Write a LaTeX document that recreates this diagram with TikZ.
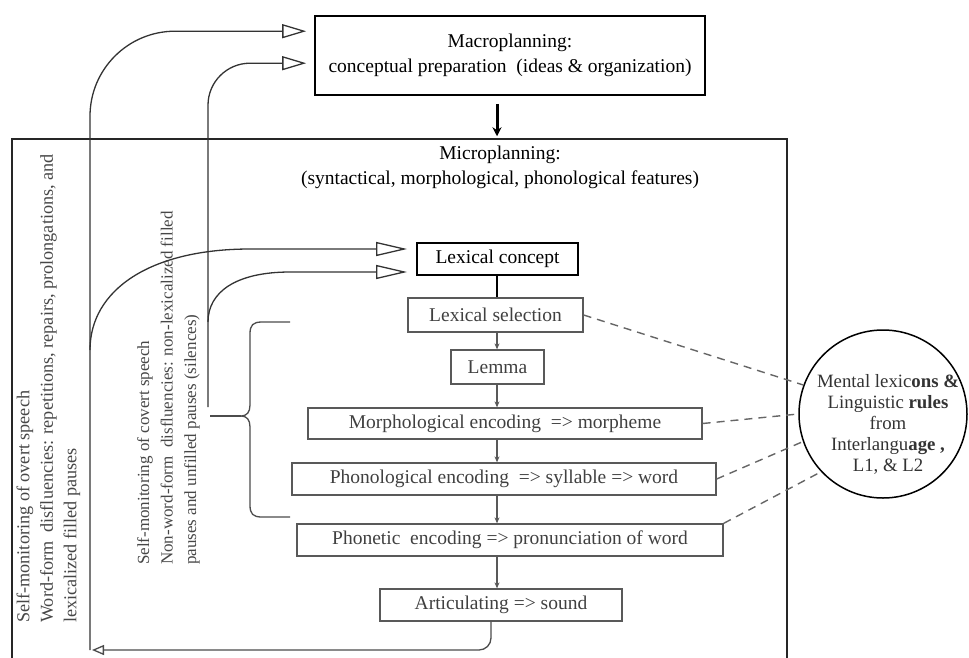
\documentclass[tikz,border=0pt]{standalone}
\usepackage{fontspec}
\setmainfont{Liberation Serif}
\usetikzlibrary{arrows.meta,calc}

\begin{document}
\begin{tikzpicture}[x=1pt,y=-1pt,
  every node/.style={font=\fontsize{19.5}{25}\selectfont, inner sep=0pt},
  topbox/.style={draw=black, line width=1.6pt, text=black, align=center},
  stagebox/.style={draw=black!65, line width=1.3pt, text=black!75, minimum height=32pt},
  conceptbox/.style={draw=black, line width=1.8pt, text=black, minimum height=32pt},
  sidenote/.style={rotate=90, anchor=west, align=left, text=black!72},
  feedback/.style={draw=black!80, line width=1.3pt,
    -{Triangle[open, length=24pt, width=14pt]}},
  flowarrow/.style={draw=black!65, line width=1.4pt,
    -{Stealth[length=6pt, width=5pt]}},
  linkdash/.style={draw=black!60, line width=1.4pt, dash pattern=on 8pt off 6pt},
]
\useasboundingbox (0,0) rectangle (969,657);

% main vertical axis of the stage column
\coordinate (axis) at (497,0);

% macroplanning box
\node[topbox, minimum width=390pt, minimum height=79pt] (macro) at (510,55.5)
  {Macroplanning:\\conceptual preparation\ \ (ideas \& organization)};

% microplanning frame (open at the bottom edge of the page)
\node[draw=black!85, line width=1.5pt, minimum width=775pt, minimum height=560pt]
  (micro) at (399.5,419) {};
\node[align=center, text=black] (microtext) at (500,167.5)
  {Microplanning:\\(syntactical,\ morphological, phonological features)};

\draw[draw=black, line width=3pt, -{Stealth[length=9pt, width=9pt]},
  shorten <=8pt, shorten >=2pt] (axis |- macro.south) -- (axis |- micro.north);

% the stages
\node[conceptbox, minimum width=161pt] (lexc) at (497.5,259) {Lexical concept};
\node[stagebox, minimum width=175pt, minimum height=34pt] (lexsel) at (495.5,315) {Lexical selection};
\node[stagebox, minimum width=93pt, minimum height=34pt] (lemma) at (497.5,367) {Lemma};
\node[stagebox, minimum width=394pt, minimum height=31pt] (morph) at (505,423.5)
  {Morphological encoding \ =>\ morpheme};
\node[stagebox, minimum width=424pt] (phon) at (504,479)
  {Phonological encoding \ => syllable => word};
\node[stagebox, minimum width=426pt] (phonetic) at (510,540)
  {Phonetic\ \ encoding => pronunciation of word};
\node[stagebox, minimum width=242pt] (artic) at (501,605) {Articulating => sound};

\draw[draw=black, line width=2.6pt] (lexc.south -| axis) -- (lexsel.north -| axis);
\draw[flowarrow] (lexsel.south -| axis) -- (lemma.north -| axis);
\draw[flowarrow] (lemma.south -| axis) -- (morph.north -| axis);
\draw[flowarrow] (morph.south -| axis) -- (phon.north -| axis);
\draw[flowarrow] (phon.south -| axis) -- (phonetic.north -| axis);
\draw[flowarrow] (phonetic.south -| axis) -- (artic.north -| axis);

% knowledge store
\node[circle, draw=black, line width=1.5pt, minimum size=168pt] (store) at (883,414) {};
\node[align=center, text=black!80, font=\fontsize{18.8}{21}\selectfont] (storetext) at (888,424)
  {Mental lexic\textbf{ons \&}\\Linguistic \textbf{rules}\\from\\Interlangu\textbf{age ,}\\L1, \& L2};

\draw[linkdash] (lexsel.east) -- (store.160);
\draw[linkdash] (morph.east) -- (store.180);
\draw[linkdash] (phon.east) -- (store.199);
\draw[linkdash] (phonetic.north east) -- (store.223);

% self-monitoring notes
\node[sidenote, font=\fontsize{18.2}{23.5}\selectfont] (overtnote) at (48.5,623)
  {Self-monitoring of overt speech\\
   Word-form\ \ disfluencies: repetitions, repairs, prolongations, and\\
   lexicalized filled pauses};
\node[sidenote, font=\fontsize{17}{23.5}\selectfont] (covertnote) at (168.5,565)
  {Self-monitoring of covert speech\\
   Non-word-form\ \ disfluencies: non-lexicalized filled\\
   pauses and unfilled pauses (silences)};

% feedback loops
\coordinate (loopfoot) at (90,650);
\coordinate (overtbranch) at (90,350);
\coordinate (bracestem) at (208,407);
\coordinate (covertbranch) at (208,322);
\coordinate (macrotipA) at ($(macro.north west)+(-8,16)$);
\coordinate (macrotipB) at ($(macro.north west)+(-8,48)$);
\coordinate (lextipA) at ($(lexc.west)+(-9,-10)$);
\coordinate (lextipB) at ($(lexc.west)+(-9,13)$);

\draw[feedback, rounded corners=85pt] (loopfoot) |- (macrotipA);
\draw[feedback, rounded corners=42pt] (bracestem) |- (macrotipB);
\draw[feedback, -{Triangle[open, length=31pt, width=14pt]}]
  (overtbranch) .. controls (90,290) and (150,249) .. (250,249) -- (lextipA);
\draw[feedback, -{Triangle[open, length=31pt, width=14pt]}]
  (covertbranch) .. controls (208,292) and (236,272) .. (290,272) -- (lextipB);

% return path from articulation
\draw[draw=black!70, line width=1.3pt, rounded corners=12pt,
  -{Triangle[open, length=12pt, width=10pt]}]
  ($(artic.south)+(-10,0)$) |- (92,650);

% brace grouping the encoding stages
\coordinate (bracetip) at (241,416);
\draw[draw=black!70, line width=1.3pt]
  (290,322) -- (262,322) .. controls (253,322) and (250,325) .. (250,334)
  -- (250,405) .. controls (250,412) and (247,416) .. (bracetip)
  .. controls (247,416) and (250,420) .. (250,427)
  -- (250,505) .. controls (250,514) and (253,517) .. (262,517) -- (290,517);
\draw[draw=black!70, line width=1.3pt] (bracetip) -- (210,416);
\end{tikzpicture}
\end{document}
